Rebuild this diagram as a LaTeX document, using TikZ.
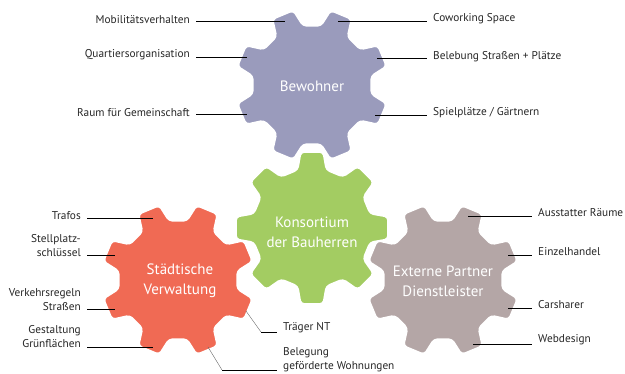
\documentclass[tikz,border=0pt]{standalone}
\usepackage{fontspec}
\setmainfont{PT Sans}
\usetikzlibrary{calc}

\definecolor{bewohnerc}{HTML}{9A9BBC}
\definecolor{konsortc}{HTML}{A3CC62}
\definecolor{stadtc}{HTML}{F06A54}
\definecolor{externc}{HTML}{B4A6A6}
\definecolor{labtext}{HTML}{262626}

% cog wheel with 8 teeth: centre, angle of first tooth, colour
\newcommand{\cogwheel}[3]{%
  \fill[#3, draw=white, line width=2pt, rounded corners=3.5pt, shift={#1}]
    ({#2-14}:60)
    \foreach \k in {0,...,6} {
      -- ({#2+45*\k-8.5}:77) -- ({#2+45*\k+8.5}:77)
      -- ({#2+45*\k+14}:60) -- ({#2+45*\k+31}:60)
    }
    -- ({#2+315-8.5}:77) -- ({#2+315+8.5}:77) -- ({#2+315+14}:60) -- cycle;
}

\tikzset{
  lab/.style={inner xsep=6pt, inner ysep=1pt, text=labtext,
    font=\fontsize{11.3}{14}\selectfont},
  gearlab/.style={text=white, align=center,
    font=\fontsize{15}{20}\selectfont},
  lead/.style={draw=black, line width=0.8pt},
  thinlead/.style={draw=black!60, line width=0.4pt}
}

\begin{document}
\begin{tikzpicture}[x=1pt,y=-1pt]
  \useasboundingbox (0,0) rectangle (625,374);

  % the four wheels
  \cogwheel{(312,85)}{22.5}{bewohnerc}
  \cogwheel{(178,280)}{22.5}{stadtc}
  \cogwheel{(443,280)}{22.5}{externc}
  \cogwheel{(312,228)}{0}{konsortc}

  \node[gearlab] (bew) at (312,86) {Bewohner};
  \node[gearlab] (kon) at (312,232) {Konsortium\\der Bauherren};
  \node[gearlab] (sta) at (180,281) {Städtische\\Verwaltung};
  \node[gearlab] (ext) at (443,281) {Externe Partner\\Dienstleister};

  % points on the teeth
  \coordinate (b1) at (285,21);
  \coordinate (b2) at (247,57);
  \coordinate (b3) at (247,114);
  \coordinate (b4) at (338,21);
  \coordinate (b5) at (377,58);
  \coordinate (b6) at (375,115);
  \coordinate (s1) at (153,218);
  \coordinate (s2) at (115,255);
  \coordinate (s3) at (115,309);
  \coordinate (s4) at (153,347);
  \coordinate (s5) at (246,311);
  \coordinate (s6) at (208,347);
  \coordinate (knick5) at (261,332);
  \coordinate (knick6) at (222,370);
  \coordinate (e1) at (468,216);
  \coordinate (e2) at (508,255);
  \coordinate (e3) at (508,308);
  \coordinate (e4) at (473,344);

  % Bewohner
  \node[lab, anchor=east] (mob) at (196,20) {Mobilitätsverhalten};
  \node[lab, anchor=east] (qua) at (196,55) {Quartiersorganisation};
  \node[lab, anchor=east] (rau) at (196,113) {Raum für Gemeinschaft};
  \node[lab, anchor=west] (cow) at (427,19) {Coworking Space};
  \node[lab, anchor=west] (bel) at (427,57) {Belebung Straßen + Plätze};
  \node[lab, anchor=west] (spi) at (427,113) {Spielplätze / Gärtnern};
  \draw[lead] (mob.east |- b1) -- (b1);
  \draw[lead] (qua.east |- b2) -- (b2);
  \draw[lead] (rau.east |- b3) -- (b3);
  \draw[lead] (b4) -- (cow.west |- b4);
  \draw[lead] (b5) -- (bel.west |- b5);
  \draw[lead] (b6) -- (spi.west |- b6);

  % Staedtische Verwaltung
  \node[lab, anchor=east] (tra) at (87,216) {Trafos};
  \node[lab, anchor=east, align=right] (ste) at (87,246) {Stellplatz-\\schlüssel};
  \node[lab, anchor=east, align=right] (ver) at (87,300) {Verkehrsregeln\\Straßen};
  \node[lab, anchor=east, align=right] (ges) at (87,337) {Gestaltung\\Grünflächen};
  \node[lab, anchor=west] (trg) at (277,328) {Träger NT};
  \node[lab, anchor=west, align=left] (beg) at (277,360) {Belegung\\geförderte Wohnungen};
  \draw[lead] (tra.east |- s1) -- (s1);
  \draw[lead] (ste.east |- s2) -- (s2);
  \draw[lead] (ver.east |- s3) -- (s3);
  \draw[lead] (ges.east |- s4) -- (s4);
  \draw[thinlead] (s5) -- (knick5);
  \draw[lead] (knick5) -- (trg.west |- knick5);
  \draw[thinlead] (s6) -- (knick6);
  \draw[lead] (knick6) -- (beg.west |- knick6);

  % Externe Partner
  \node[lab, anchor=west] (aus) at (532,213) {Ausstatter Räume};
  \node[lab, anchor=west] (ein) at (532,252) {Einzelhandel};
  \node[lab, anchor=west] (car) at (532,305) {Carsharer};
  \node[lab, anchor=west] (web) at (532,340) {Webdesign};
  \draw[lead] (e1) -- (aus.west |- e1);
  \draw[lead] (e2) -- (ein.west |- e2);
  \draw[lead] (e3) -- (car.west |- e3);
  \draw[lead] (e4) -- (web.west |- e4);
\end{tikzpicture}
\end{document}
